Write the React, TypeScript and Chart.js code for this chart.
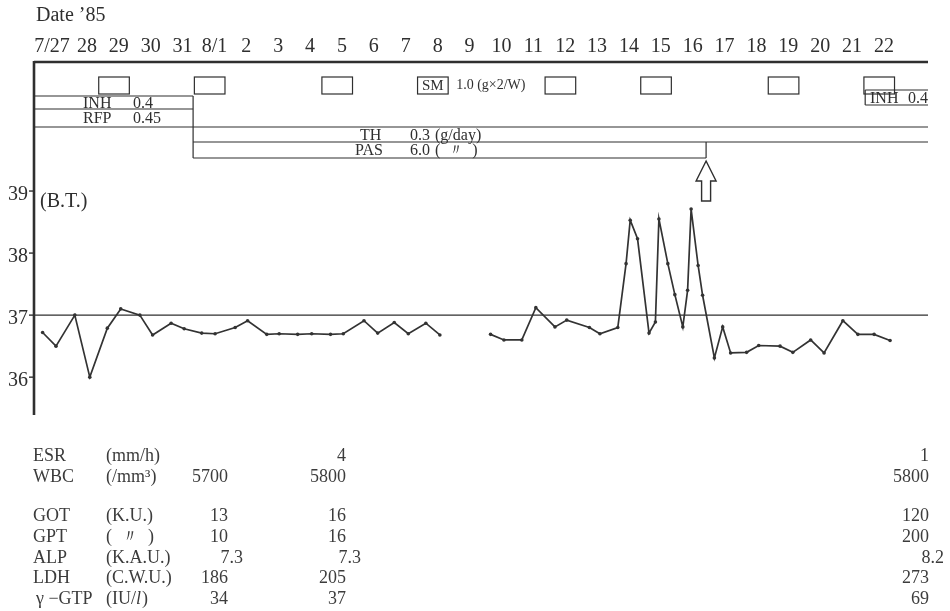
import React, { useEffect, useRef } from "react";
import { Chart, registerables } from "chart.js";

Chart.register(...registerables);

// ---------- data ----------
const yearTitle = "Date \u201985";
const dateLabels = ["7/27", "28", "29", "30", "31", "8/1", "2", "3", "4", "5", "6", "7", "8", "9", "10", "11", "12", "13", "14", "15", "16", "17", "18", "19", "20", "21", "22"];

// time of each body-temperature reading, in days from 7/27
const tempDay = [
  -0.39, 0.03, 0.62, 1.09, 1.64, 2.06, 2.66, 3.06, 3.64, 4.05, 4.6, 5.02, 5.65, 6.04, 6.64, 7.03, 7.61, 8.05, 8.64, 9.04,
  9.69, 10.12, 10.64, 11.08, 11.63, 12.07, 12.9,
  13.66, 14.08, 14.64, 15.08, 15.68, 16.05, 16.76, 17.09, 17.65, 17.91, 18.04, 18.27, 18.63, 18.83, 18.94, 19.22, 19.44,
  19.69, 19.84, 19.95, 20.17, 20.31, 20.68, 20.94, 21.19, 21.69, 22.07, 22.74, 23.14, 23.7, 24.12, 24.71, 25.18, 25.69, 26.19,
];
// body temperature (°C); null = no reading
const tempValue = [
  36.72, 36.5, 37.0, 36.0, 36.79, 37.1, 37.0, 36.68, 36.87, 36.78, 36.71, 36.7, 36.8, 36.91, 36.69, 36.7, 36.69, 36.7, 36.69, 36.7,
  36.91, 36.71, 36.88, 36.7, 36.87, 36.68, null,
  36.69, 36.6, 36.6, 37.12, 36.81, 36.92, 36.8, 36.7, 36.8, 37.83, 38.53, 38.23, 36.71, 36.89, 38.55, 37.83, 37.33,
  36.81, 37.4, 38.71, 37.8, 37.32, 36.31, 36.81, 36.39, 36.4, 36.51, 36.5, 36.4, 36.6, 36.39, 36.91, 36.69, 36.69, 36.59,
];
const tempTicks = [36, 37, 38, 39];
const normalTemp = 37;
const tempLabel = "(B.T.)";

// SM injections (day index), 1.0 g twice a week
const smDays = [1, 4, 8, 11, 15, 18, 22, 25];
const smLabelDay = 11;
const smName = "SM";
const smDose = "1.0 (g\u00d72/W)";

// oral drugs: start / end in days from 7/27 (null = beyond chart)
const drugNames = ["INH", "RFP", "TH", "PAS", "INH"];
const drugDoses = ["0.4", "0.45", "0.3", "6.0", "0.4"];
const drugUnits = ["", "", "(g/day)", "(  \u3003  )", ""];
const drugStart = [null, null, 4.33, 4.33, 25.41];
const drugEnd = [4.33, null, null, 20.42, null];

// laboratory data
const labNames = ["ESR", "WBC", "GOT", "GPT", "ALP", "LDH", "\u03b3 \u2212GTP"];
const labUnits = ["(mm/h)", "(/mm\u00b3)", "(K.U.)", "(  \u3003  )", "(K.A.U.)", "(C.W.U.)", "(IU/l)"];
const labCol1 = [null, "5700", "13", "10", "7.3", "186", "34"];
const labCol2 = ["4", "5800", "16", "16", "7.3", "205", "37"];
const labCol3 = ["1", "5800", "120", "200", "8.2", "273", "69"];

// ---------- styling ----------
const INK = "#2f2f2f";
const TABLE_INK = "#3c3c3c";
const SERIF = '"Liberation Serif", "DejaVu Serif", serif';

const overlay = {
  id: "clinicalOverlay",
  beforeDatasetsDraw(chart: any) {
    const { ctx, chartArea: a } = chart;
    const xs = chart.scales.x;
    const ys = chart.scales.y;
    const px = (d: number) => xs.getPixelForValue(d);
    const py = (v: number) => ys.getPixelForValue(v);
    ctx.save();
    ctx.strokeStyle = INK;
    ctx.fillStyle = INK;
    const line = (x1: number, y1: number, x2: number, y2: number, w = 1.2) => {
      ctx.lineWidth = w;
      ctx.beginPath();
      ctx.moveTo(x1, y1);
      ctx.lineTo(x2, y2);
      ctx.stroke();
    };
    const text = (s: string, x: number, y: number, size: number, align = "left") => {
      ctx.font = `${size}px ${SERIF}`;
      ctx.textAlign = align;
      ctx.textBaseline = "middle";
      ctx.fillText(s, x, y);
    };

    // header
    text(yearTitle, 36, 16, 20);
    dateLabels.forEach((lab, i) => text(lab, px(i) - (i === 0 ? 3 : 0), 47, 20, "center"));

    // frame
    line(a.left, a.top, a.right, a.top, 2.6);
    line(a.left, a.top - 1, a.left, a.bottom, 2.6);

    // y ticks
    tempTicks.forEach((v) => {
      line(a.left - 5, py(v), a.left, py(v), 1.4);
      text(String(v), 28, py(v) + 4, 20, "right");
    });
    text(tempLabel, 40, py(39) + 11, 20);

    // normal line
    line(a.left, py(normalTemp), a.right, py(normalTemp), 1.2);

    // SM boxes
    const boxTop = 77, boxBot = 94;
    smDays.forEach((d) => {
      const x1 = px(d + 0.37), x2 = px(d + 1.33);
      ctx.lineWidth = 1.2;
      ctx.strokeRect(x1, boxTop, x2 - x1, boxBot - boxTop);
      if (d === smLabelDay) {
        text(smName, (x1 + x2) / 2, (boxTop + boxBot) / 2 + 1, 15, "center");
        text(smDose, x2 + 8, (boxTop + boxBot) / 2, 14);
      }
    });

    // drug rows (pixel layout per row)
    const rowTop = [96, 109, 127, 142, 90];
    const rowBot = [109, 127, 142, 158, 105];
    const hasTop = [true, false, false, false, true];
    const nameX = [83, 83, 360, 355, 870];
    const doseX = [133, 133, 410, 410, null];
    drugNames.forEach((n, i) => {
      const x1 = drugStart[i] == null ? a.left : px(drugStart[i] as number);
      const x2 = drugEnd[i] == null ? a.right : px(drugEnd[i] as number);
      line(x1, rowBot[i], x2, rowBot[i]);
      if (hasTop[i]) line(x1, rowTop[i], x2, rowTop[i]);
      if (drugStart[i] != null) line(x1, rowTop[i], x1, rowBot[i]);
      if (drugEnd[i] != null) line(x2, rowTop[i], x2, i === 0 ? rowBot[1] : rowBot[i]);
      const cy = (rowTop[i] + rowBot[i]) / 2 + 1;
      text(n, nameX[i], cy, 16);
      if (doseX[i] != null) text(drugDoses[i], doseX[i] as number, cy, 16);
      else text(drugDoses[i], a.right, cy, 16, "right");
      if (drugUnits[i]) text(drugUnits[i], 435, cy, 16);
    });

    // arrow at end of PAS
    const ax = px(drugEnd[3] as number);
    const tip = 161, headBot = 181, shaftBot = 201, hw = 10, sw = 4.5;
    ctx.beginPath();
    ctx.moveTo(ax, tip);
    ctx.lineTo(ax + hw, headBot);
    ctx.lineTo(ax + sw, headBot);
    ctx.lineTo(ax + sw, shaftBot);
    ctx.lineTo(ax - sw, shaftBot);
    ctx.lineTo(ax - sw, headBot);
    ctx.lineTo(ax - hw, headBot);
    ctx.closePath();
    ctx.fillStyle = "#ffffff";
    ctx.fill();
    ctx.lineWidth = 1.4;
    ctx.stroke();

    // lab table
    ctx.fillStyle = TABLE_INK;
    const rowY = [456, 477, 516, 537, 558, 578, 599];
    const colX = [228, 346, 929];
    const unitX = 106;
    labNames.forEach((n, i) => {
      const y = rowY[i];
      text(n, i === 6 ? 36 : 33, y, 18);
      if (i === 6) {
        ctx.font = `18px ${SERIF}`;
        const w = ctx.measureText("(IU/").width;
        text("(IU/", unitX, y, 18);
        ctx.font = `italic 18px ${SERIF}`;
        ctx.textAlign = "left";
        ctx.fillText("l", unitX + w, y);
        const w2 = ctx.measureText("l").width;
        text(")", unitX + w + w2 + 1, y, 18);
      } else {
        text(labUnits[i], unitX, y, 18);
      }
      [labCol1[i], labCol2[i], labCol3[i]].forEach((v, c) => {
        if (v == null) return;
        const off = v.includes(".") ? 15 : 0;
        text(v, colX[c] + off, y, 18, "right");
      });
    });
    ctx.restore();
  },
};

export default function App() {
  const ref = useRef<HTMLCanvasElement | null>(null);
  useEffect(() => {
    document.body.style.margin = "0";
    document.body.style.background = "#ffffff";
    const pts = tempDay.map((d, i) => ({ x: d, y: tempValue[i] }));
    const chart = new Chart(ref.current as HTMLCanvasElement, {
      type: "scatter",
      data: {
        datasets: [
          {
            data: pts as any,
            showLine: true,
            spanGaps: false,
            borderColor: "#333333",
            borderWidth: 1.7,
            pointRadius: 1.8,
            pointBackgroundColor: "#333333",
            pointBorderWidth: 0,
            tension: 0,
          },
        ],
      },
      options: {
        responsive: false,
        animation: false,
        layout: { padding: { left: 34, right: 22, top: 62, bottom: 196 } },
        plugins: { legend: { display: false }, tooltip: { enabled: false } },
        scales: {
          x: { type: "linear", min: -0.66, max: 27.38, display: false },
          y: { type: "linear", min: 35.39, max: 41.08, display: false },
        },
      },
      plugins: [overlay],
    });
    return () => chart.destroy();
  }, []);
  return (
    <div style={{ width: 950, height: 611 }}>
      <canvas ref={ref} width={950} height={611} style={{ display: "block" }} />
    </div>
  );
}
